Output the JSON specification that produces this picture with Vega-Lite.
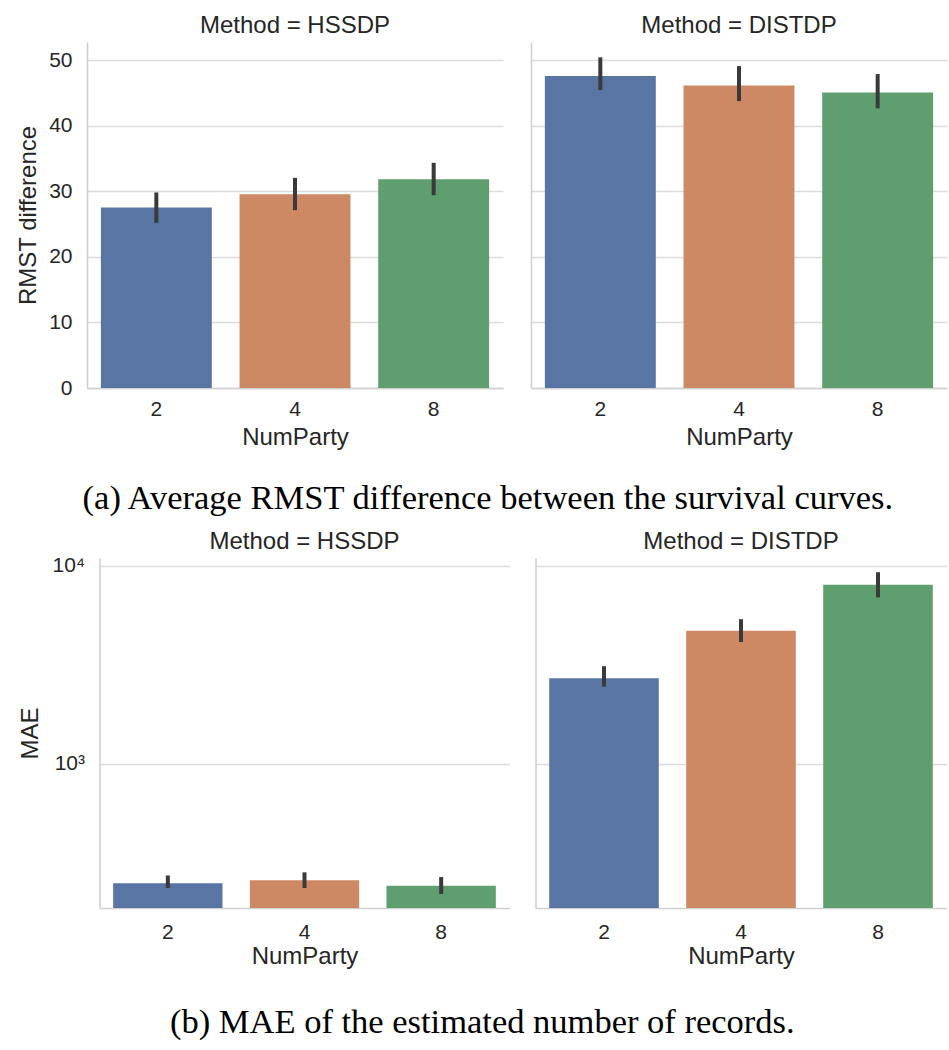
{
  "$schema": "https://vega.github.io/schema/vega-lite/v6.json",
  "background": "white",
  "padding": {"left": 16, "top": 14, "right": 0, "bottom": 0},
  "datasets": {
    "rmst": [
      {"Method": "HSSDP", "NumParty": "2", "value": 27.55, "lo": 25.2, "hi": 29.84},
      {"Method": "HSSDP", "NumParty": "4", "value": 29.58, "lo": 27.14, "hi": 32.07},
      {"Method": "HSSDP", "NumParty": "8", "value": 31.87, "lo": 29.43, "hi": 34.36},
      {"Method": "DISTDP", "NumParty": "2", "value": 47.6, "lo": 45.46, "hi": 50.46},
      {"Method": "DISTDP", "NumParty": "4", "value": 46.18, "lo": 43.78, "hi": 49.13},
      {"Method": "DISTDP", "NumParty": "8", "value": 45.11, "lo": 42.67, "hi": 47.91}
    ],
    "mae": [
      {"Method": "HSSDP", "NumParty": "2", "value": 249, "lo": 236, "hi": 273},
      {"Method": "HSSDP", "NumParty": "4", "value": 258, "lo": 236, "hi": 283},
      {"Method": "HSSDP", "NumParty": "8", "value": 242, "lo": 220, "hi": 268},
      {"Method": "DISTDP", "NumParty": "2", "value": 2700, "lo": 2450, "hi": 3110},
      {"Method": "DISTDP", "NumParty": "4", "value": 4690, "lo": 4120, "hi": 5370},
      {"Method": "DISTDP", "NumParty": "8", "value": 8020, "lo": 6920, "hi": 9270}
    ]
  },
  "config": {
    "view": {"stroke": null},
    "font": "Liberation Sans",
    "axis": {
      "labelFont": "Liberation Sans",
      "labelFontSize": 21,
      "labelColor": "#262626",
      "titleFont": "Liberation Sans",
      "titleFontSize": 24,
      "titleFontWeight": "normal",
      "titleColor": "#262626",
      "domainColor": "#d0d0d0",
      "domainWidth": 1.6,
      "gridColor": "#dcdcdc",
      "gridWidth": 1.6,
      "ticks": false
    },
    "axisX": {"grid": false, "labelAngle": 0, "labelPadding": 10, "titlePadding": 6},
    "axisY": {"labelPadding": 15, "titlePadding": 8},
    "title": {
      "font": "Liberation Sans",
      "fontSize": 24,
      "fontWeight": "normal",
      "color": "#262626",
      "anchor": "middle"
    }
  },
  "center": true,
  "bounds": "full",
  "spacing": 13,
  "vconcat": [
    {
      "title": {
        "text": "(a) Average RMST difference between the survival curves.",
        "orient": "bottom",
        "font": "Liberation Serif",
        "fontSize": 34.5,
        "color": "#000000",
        "offset": 33,
        "frame": "bounds"
      },
      "spacing": 28,
      "hconcat": [
        {
          "title": {"text": "Method = HSSDP", "offset": 4},
          "width": 416,
          "height": 346,
          "data": {"name": "rmst"},
          "transform": [{"filter": "datum.Method == 'HSSDP'"}],
          "encoding": {
            "x": {"field": "NumParty", "type": "nominal", "sort": ["2", "4", "8"],
                  "scale": {"paddingInner": 0.2, "paddingOuter": 0.1},
                  "axis": {"title": "NumParty"}}
          },
          "layer": [
            {
              "mark": {"type": "bar"},
              "encoding": {
                "y": {"field": "value", "type": "quantitative", "stack": null,
                      "scale": {"domain": [0, 52.8], "nice": false},
                      "axis": {"title": "RMST difference", "values": [0, 10, 20, 30, 40, 50]}},
                "color": {"field": "NumParty", "type": "nominal",
                          "scale": {"domain": ["2", "4", "8"], "range": ["#5975a4", "#cc8963", "#5f9e6e"]},
                          "legend": null}
              }
            },
            {
              "mark": {"type": "rule", "color": "#3a3a3a", "strokeWidth": 4},
              "encoding": {
                "y": {"field": "lo", "type": "quantitative"},
                "y2": {"field": "hi"}
              }
            }
          ]
        },
        {
          "title": {"text": "Method = DISTDP", "offset": 4},
          "width": 416,
          "height": 346,
          "data": {"name": "rmst"},
          "transform": [{"filter": "datum.Method == 'DISTDP'"}],
          "encoding": {
            "x": {"field": "NumParty", "type": "nominal", "sort": ["2", "4", "8"],
                  "scale": {"paddingInner": 0.2, "paddingOuter": 0.1},
                  "axis": {"title": "NumParty"}}
          },
          "resolve": {"axis": {"y": "independent"}},
          "layer": [
            {
              "mark": {"type": "bar"},
              "encoding": {
                "y": {"field": "value", "type": "quantitative", "stack": null,
                      "scale": {"domain": [0, 52.8], "nice": false},
                      "axis": {"title": null, "labels": false, "minExtent": 0, "values": [0, 10, 20, 30, 40, 50]}},
                "color": {"field": "NumParty", "type": "nominal",
                          "scale": {"domain": ["2", "4", "8"], "range": ["#5975a4", "#cc8963", "#5f9e6e"]},
                          "legend": null}
              }
            },
            {
              "mark": {"type": "rule", "color": "#3a3a3a", "strokeWidth": 4},
              "encoding": {
                "y": {"field": "lo", "type": "quantitative",
                      "axis": {"orient": "right", "title": null, "labels": false, "domain": false,
                               "grid": false, "ticks": false, "minExtent": 12, "maxExtent": 12,
                               "labelPadding": 0, "values": [0]}},
                "y2": {"field": "hi"}
              }
            }
          ]
        }
      ]
    },
    {
      "title": {
        "text": "(b) MAE of the estimated number of records.",
        "orient": "bottom",
        "font": "Liberation Serif",
        "fontSize": 34.5,
        "color": "#000000",
        "offset": 38,
        "frame": "bounds"
      },
      "spacing": 26,
      "hconcat": [
        {
          "title": {"text": "Method = HSSDP", "offset": 1},
          "width": 410,
          "height": 350,
          "data": {"name": "mae"},
          "transform": [{"filter": "datum.Method == 'HSSDP'"}],
          "encoding": {
            "x": {"field": "NumParty", "type": "nominal", "sort": ["2", "4", "8"],
                  "scale": {"paddingInner": 0.2, "paddingOuter": 0.1},
                  "axis": {"title": "NumParty", "labelPadding": 13, "titlePadding": 2}}
          },
          "layer": [
            {
              "mark": {"type": "bar"},
              "encoding": {
                "y": {"field": "value", "type": "quantitative", "stack": null,
                      "scale": {"type": "log", "domain": [187, 10940], "nice": false},
                      "axis": {"title": "MAE", "values": [1000, 10000],
                               "labelExpr": "datum.value >= 10000 ? '10⁴' : '10³'",
                               "labelPadding": 15, "titlePadding": 10}},
                "color": {"field": "NumParty", "type": "nominal",
                          "scale": {"domain": ["2", "4", "8"], "range": ["#5975a4", "#cc8963", "#5f9e6e"]},
                          "legend": null}
              }
            },
            {
              "mark": {"type": "rule", "color": "#3a3a3a", "strokeWidth": 4},
              "encoding": {
                "y": {"field": "lo", "type": "quantitative"},
                "y2": {"field": "hi"}
              }
            }
          ]
        },
        {
          "title": {"text": "Method = DISTDP", "offset": 4},
          "width": 411,
          "height": 350,
          "data": {"name": "mae"},
          "transform": [{"filter": "datum.Method == 'DISTDP'"}],
          "encoding": {
            "x": {"field": "NumParty", "type": "nominal", "sort": ["2", "4", "8"],
                  "scale": {"paddingInner": 0.2, "paddingOuter": 0.1},
                  "axis": {"title": "NumParty", "labelPadding": 13, "titlePadding": 2}}
          },
          "layer": [
            {
              "mark": {"type": "bar"},
              "encoding": {
                "y": {"field": "value", "type": "quantitative", "stack": null,
                      "scale": {"type": "log", "domain": [187, 10940], "nice": false},
                      "axis": {"title": null, "labels": false, "minExtent": 0, "values": [1000, 10000]}},
                "color": {"field": "NumParty", "type": "nominal",
                          "scale": {"domain": ["2", "4", "8"], "range": ["#5975a4", "#cc8963", "#5f9e6e"]},
                          "legend": null}
              }
            },
            {
              "mark": {"type": "rule", "color": "#3a3a3a", "strokeWidth": 4},
              "encoding": {
                "y": {"field": "lo", "type": "quantitative"},
                "y2": {"field": "hi"}
              }
            }
          ]
        }
      ]
    }
  ]
}
